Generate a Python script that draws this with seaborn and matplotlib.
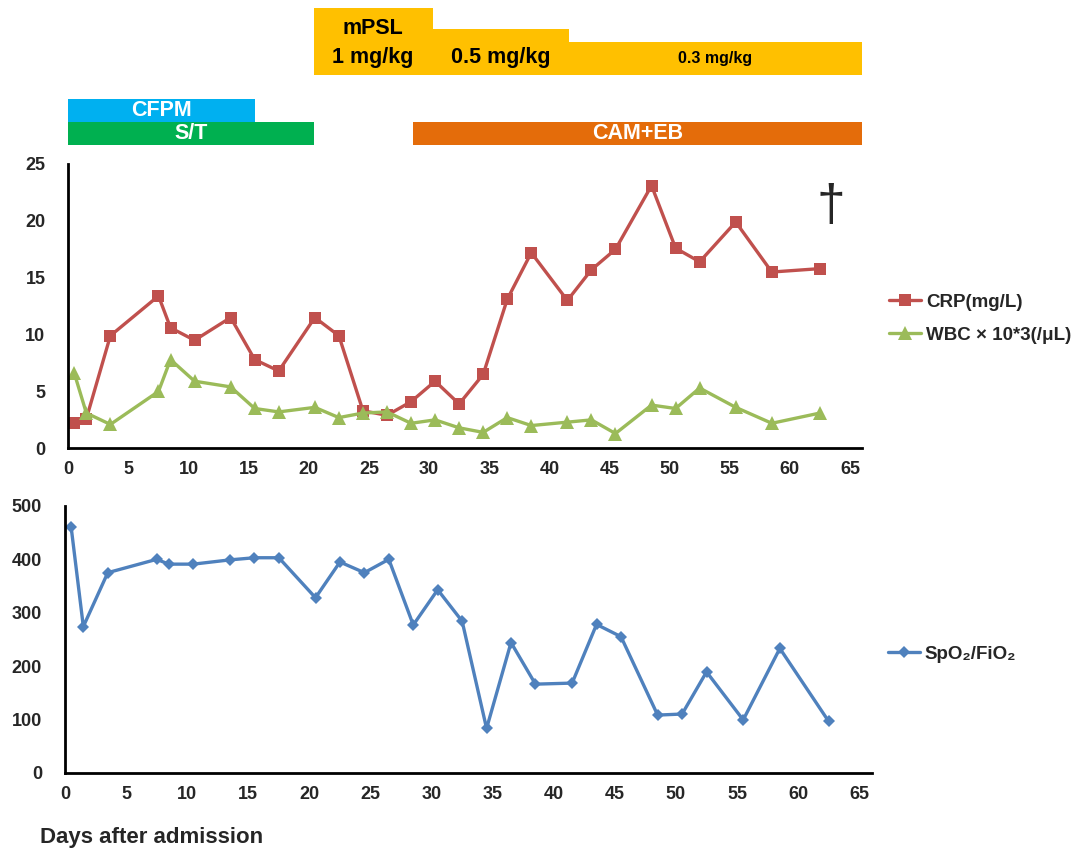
"""Clinical course: CRP, WBC and SpO2/FiO2 after admission"""
import matplotlib
matplotlib.use('Agg')
import matplotlib.pyplot as plt
import pandas as pd
import seaborn as sns

# Data
days = [0.5, 1.5, 3.5, 7.5, 8.5, 10.5, 13.5, 15.5, 17.5, 20.5, 22.5, 24.5, 26.5, 28.5,
        30.5, 32.5, 34.5, 36.5, 38.5, 41.5, 43.5, 45.5, 48.5, 50.5, 52.5, 55.5, 58.5, 62.5]
crp = [2.2, 2.6, 9.9, 13.4, 10.6, 9.5, 11.5, 7.8, 6.8, 11.5, 9.9, 3.3, 2.9, 4.1,
       5.9, 3.9, 6.5, 13.1, 17.2, 13.0, 15.7, 17.5, 23.1, 17.6, 16.4, 19.9, 15.5, 15.8]
wbc = [6.6, 3.1, 2.1, 5.0, 7.8, 5.9, 5.4, 3.5, 3.2, 3.6, 2.7, 3.1, 3.2, 2.2,
       2.5, 1.8, 1.4, 2.7, 2.0, 2.3, 2.5, 1.3, 3.8, 3.5, 5.3, 3.6, 2.2, 3.1]
spo2_fio2 = [461, 274, 375, 400, 391, 391, 399, 403, 403, 328, 395, 375, 400, 277,
             343, 284, 83, 244, 166, 168, 278, 255, 108, 110, 189, 99, 233, 96]

# treatment periods (days)
abx_labels = ['CFPM', 'S/T', 'CAM+EB']
abx_start = [0, 0, 28.7]
abx_end = [15.5, 20.4, 66.0]
steroid_labels = ['1 mg/kg', '0.5 mg/kg', '0.3 mg/kg']
steroid_start = [20.4, 30.3, 41.6]
steroid_end = [30.3, 41.6, 66.0]
death_day = 63.4

RED = '#C0504D'
GREEN = '#9BBB59'
BLUE = '#4F81BD'
GOLD = '#FFC000'
abx_colors = ['#00B0F0', '#00B050', '#E46C0A']

sns.set_style('white')
plt.rcParams['font.family'] = ['Liberation Sans', 'DejaVu Sans']
plt.rcParams['font.weight'] = 'bold'

W, H = 1071, 850
fig = plt.figure(figsize=(W / 100, H / 100), dpi=100)


def px_axes(left, top, right, bottom):
    return fig.add_axes([left / W, 1 - bottom / H, (right - left) / W, (bottom - top) / H])


df = pd.DataFrame({'day': days, 'crp': crp, 'wbc': wbc, 'spo2': spo2_fio2})

# --- upper panel ---
ax1 = px_axes(68.3, 164, 862, 448.3)
sns.lineplot(data=df, x='day', y='crp', ax=ax1, color=RED, marker='s', markersize=8,
             markeredgewidth=0, linewidth=2.4, label='CRP(mg/L)')
sns.lineplot(data=df, x='day', y='wbc', ax=ax1, color=GREEN, marker='^', markersize=9.5,
             markeredgewidth=0, linewidth=2.4, label='WBC \u00d7 10*3(/\u03bcL)')
ax1.set_xlim(0, 66)
ax1.set_ylim(0, 25)
ax1.set_xticks(range(0, 70, 5))
ax1.set_yticks(range(0, 30, 5))
ax1.text(death_day, 21.2, '\u2020', fontsize=37, fontweight='normal', ha='center', va='center')
ax1.legend(loc='center left', bbox_to_anchor=(880 / W, 1 - 318.5 / H),
           bbox_transform=fig.transFigure, frameon=False, fontsize=13.5, borderpad=0,
           handlelength=1.7, handletextpad=0.25, labelspacing=0.85)

# --- lower panel ---
ax2 = px_axes(65, 506, 871.5, 772.7)
sns.lineplot(data=df, x='day', y='spo2', ax=ax2, color=BLUE, marker='D', markersize=6.5,
             markeredgewidth=0, linewidth=2.4, label='SpO\u2082/FiO\u2082')
ax2.set_xlim(0, 66)
ax2.set_ylim(0, 500)
ax2.set_xticks(range(0, 70, 5))
ax2.set_yticks(range(0, 600, 100))
ax2.legend(loc='center left', bbox_to_anchor=(879 / W, 1 - 654 / H),
           bbox_transform=fig.transFigure, frameon=False, fontsize=13.5, borderpad=0,
           handlelength=1.7, handletextpad=0.25)

for ax in (ax1, ax2):
    sns.despine(ax=ax)
    for s in ('left', 'bottom'):
        ax.spines[s].set_linewidth(2)
        ax.spines[s].set_color('black')
    ax.set_xlabel('')
    ax.set_ylabel('')
    ax.tick_params(direction='out', length=4.5, width=1.8, color='black', labelsize=13)
    ax.tick_params(axis='y', pad=12)
    ax.tick_params(axis='x', pad=5)

fig.text(40 / W, 1 - 838 / H, 'Days after admission', fontsize=16, ha='left', va='center')

# --- treatment bars (y in pixels from figure top) ---
axb = px_axes(68.3, 0, 862, 150)
axb.set_xlim(0, 66)
axb.set_ylim(150, 0)
axb.axis('off')

steroid_tops = [8, 29, 42]
for lab, s, e, top in zip(steroid_labels, steroid_start, steroid_end, steroid_tops):
    axb.barh((top + 74.7) / 2, e - s, left=s, height=74.7 - top, color=GOLD, linewidth=0)
    small = lab.startswith('0.3')
    axb.text((s + e) / 2, 58.5 if small else 57, lab, ha='center', va='center',
             fontsize=11.5 if small else 15.5, color='black')
axb.text((steroid_start[0] + steroid_end[0]) / 2, 29, 'mPSL', ha='center', va='center',
         fontsize=15.5, color='black')

abx_rows = [110.5, 133.5, 133.5]
for lab, s, e, yc, col in zip(abx_labels, abx_start, abx_end, abx_rows, abx_colors):
    axb.barh(yc, e - s, left=s, height=23, color=col, linewidth=0)
    axb.text((s + e) / 2, yc, lab, ha='center', va='center', fontsize=15.5, color='white')

fig.savefig('out.png', dpi=100)
